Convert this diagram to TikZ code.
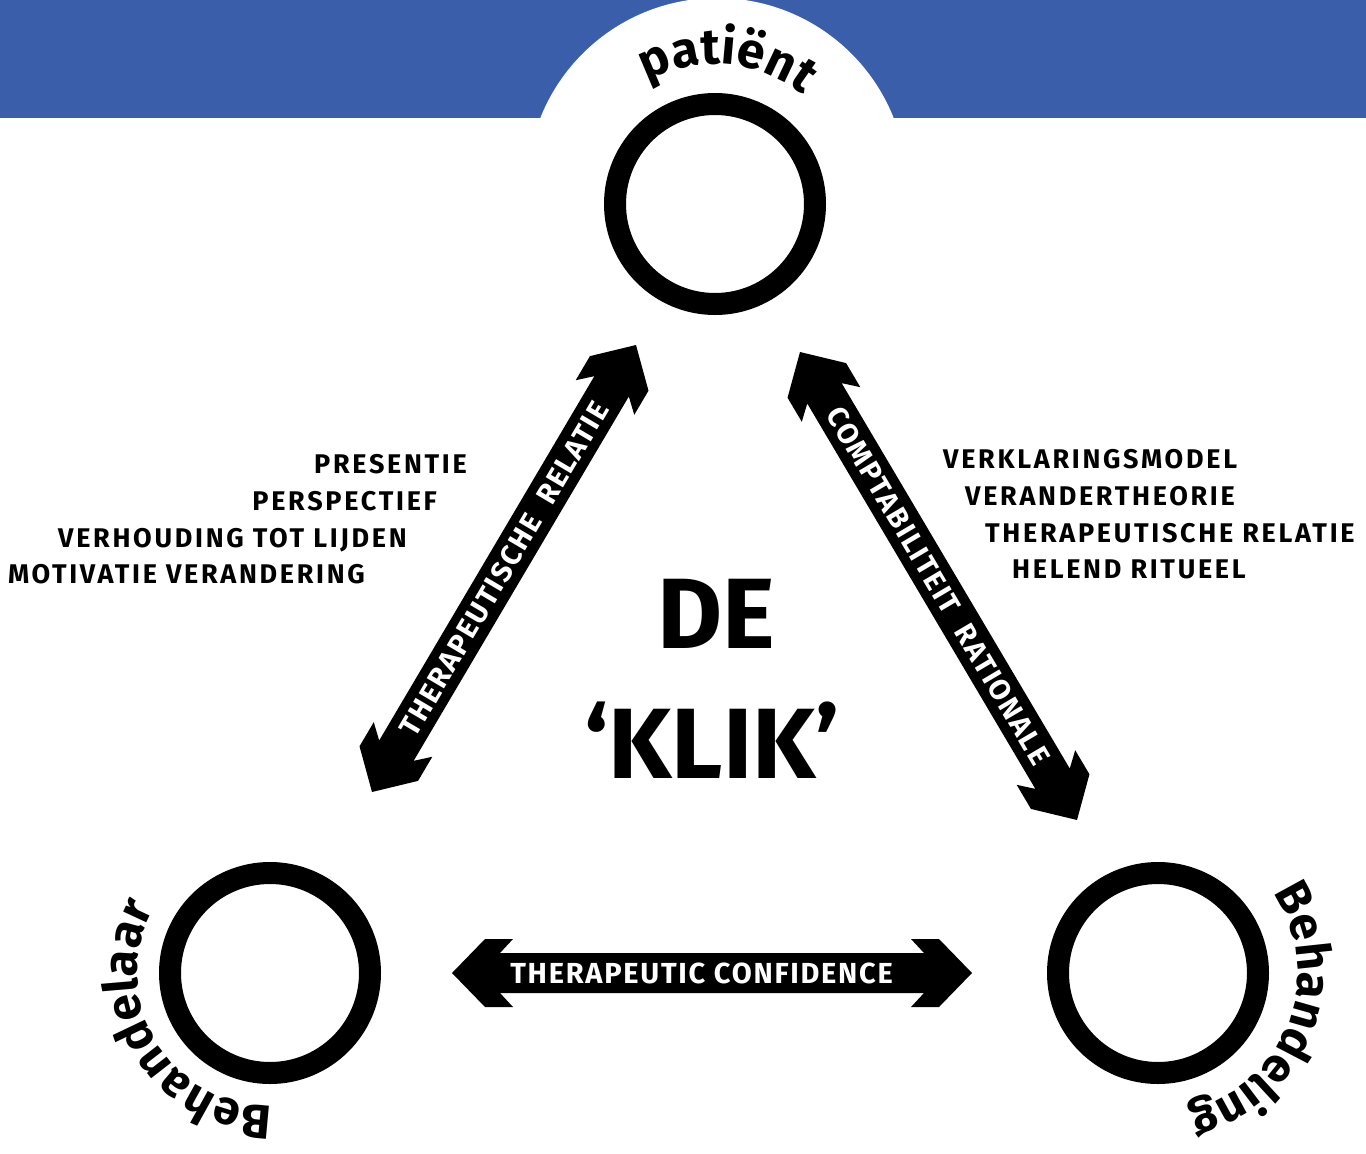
\documentclass[tikz,border=0pt]{standalone}
\usepackage{fontspec}
\setmainfont{Fira Sans}
\usetikzlibrary{calc,decorations.text}

\definecolor{bandblauw}{RGB}{59,94,171}

% dubbele pijl met ingekeepte koppen tussen twee punten
\newcommand{\klikpijl}[2]{%
  \fill (#1) -- ($(#1)!33pt!(#2)!34pt!90:(#2)$) -- ($(#1)!61pt!(#2)!34pt!90:(#2)$)
    -- ($(#1)!48pt!(#2)!20pt!90:(#2)$) -- ($(#2)!48pt!(#1)!20pt!-90:(#1)$)
    -- ($(#2)!61pt!(#1)!34pt!-90:(#1)$) -- ($(#2)!33pt!(#1)!34pt!-90:(#1)$) -- (#2)
    -- ($(#2)!33pt!(#1)!34pt!90:(#1)$) -- ($(#2)!61pt!(#1)!34pt!90:(#1)$)
    -- ($(#2)!48pt!(#1)!20pt!90:(#1)$) -- ($(#1)!48pt!(#2)!20pt!-90:(#2)$)
    -- ($(#1)!61pt!(#2)!34pt!-90:(#2)$) -- ($(#1)!33pt!(#2)!34pt!-90:(#2)$) -- cycle;}

\begin{document}
\begin{tikzpicture}[x=1pt,y=1pt,
  ring/.style={circle,draw,line width=22pt,minimum size=200pt,inner sep=0pt},
  lijst/.style={inner sep=0pt,font=\fontsize{27}{30}\selectfont\bfseries\addfontfeature{LetterSpace=10}},
  pijltekst/.style={inner sep=0pt,text=white,font=\fontsize{29}{32}\selectfont\bfseries\addfontfeature{LetterSpace=6}},
  klik/.style={inner sep=0pt,font=\fontsize{100}{110}\selectfont\bfseries},
  boogtekst/.style={decorate,decoration={text along path,text align=center,text={#1}}}]
\useasboundingbox (0,0) rectangle (1366,-1154);

% blauwe band met uitsparing
\fill[bandblauw] (0,0) rectangle (1366,-118);
\fill[white] (717,-188) circle[radius=190];

\node[ring] (patient) at (715,-204) {};
\node[ring] (behandelaar) at (270,-973) {};
\node[ring] (behandeling) at (1158,-973) {};

\path[boogtekst={|\fontsize{50}{54}\selectfont\bfseries|patiënt}]
  ($(patient)+(150:140)$) arc[start angle=150,end angle=20,radius=140];
\path[boogtekst={|\fontsize{48}{52}\selectfont\bfseries|Behandelaar}]
  ($(behandelaar)+(285:133)$) arc[start angle=285,end angle=137,radius=133];
\path[boogtekst={|\fontsize{48}{52}\selectfont\bfseries|Behandeling}]
  ($(behandeling)+(52:140)$) arc[start angle=52,end angle=-95,radius=140];

\coordinate (lo) at (372,-792);
\coordinate (lb) at (636,-345);
\coordinate (rb) at (800,-352);
\coordinate (ro) at (1077,-820);
\coordinate (ol) at (452,-973);
\coordinate (or) at (972,-973);

\klikpijl{lo}{lb}
\klikpijl{rb}{ro}
\klikpijl{ol}{or}

\path (lo) -- (lb) node[midway,sloped,pijltekst] (trel) {THERAPEUTISCHE\ \ RELATIE};
\path (rb) -- (ro) node[midway,sloped,pijltekst] (crat) {COMPTABILITEIT\ \ RATIONALE};
\path (ol) -- (or) node[pos=0.48,pijltekst] (tconf) {THERAPEUTIC CONFIDENCE};

\node[klik,anchor=base] (de) at (716,-648) {DE};
\node[klik,anchor=base] (klikw) at (712,-778) {‘KLIK’};

\node[lijst,anchor=base east] (l1) at (467,-473) {PRESENTIE};
\node[lijst,anchor=base east] (l2) at (437,-510) {PERSPECTIEF};
\node[lijst,anchor=base east] (l3) at (407,-547) {VERHOUDING TOT LIJDEN};
\node[lijst,anchor=base east] (l4) at (365,-583) {MOTIVATIE VERANDERING};

\node[lijst,anchor=base west] (r1) at (943,-468) {VERKLARINGSMODEL};
\node[lijst,anchor=base west] (r2) at (965,-505) {VERANDERTHEORIE};
\node[lijst,anchor=base west] (r3) at (985,-542) {THERAPEUTISCHE RELATIE};
\node[lijst,anchor=base west] (r4) at (1012,-578) {HELEND RITUEEL};
\end{tikzpicture}
\end{document}
